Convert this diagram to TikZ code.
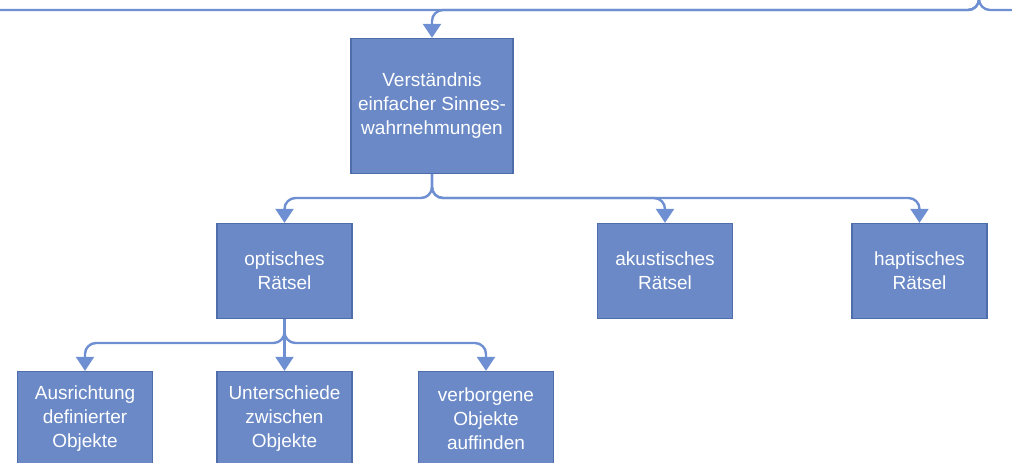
\documentclass[tikz,border=0pt]{standalone}
\usepackage{fontspec}
\setmainfont{Liberation Sans}
\usetikzlibrary{arrows.meta}
\definecolor{boxfill}{HTML}{6A89C6}
\definecolor{boxedge}{HTML}{4E6DAB}
\definecolor{linecol}{HTML}{6F8FD3}
\begin{document}
\begin{tikzpicture}[x=1pt,y=-1pt,
  box/.style={draw=boxedge, line width=1.3pt, fill=boxfill, text=white,
    align=center, inner sep=0pt, minimum width=135pt, minimum height=95pt,
    font=\fontsize{19}{24}\selectfont},
  wire/.style={draw=linecol, line width=2.4pt, rounded corners=11pt},
  link/.style={wire, -{Triangle[width=18pt,length=14pt]}}]
\useasboundingbox (0,0) rectangle (1012,463);
\clip (0,0) rectangle (1012,463);

% boxes
\node[box, minimum width=162pt, minimum height=135pt] (top) at (432,106)
  {Verständnis\\einfacher Sinnes-\\wahrnehmungen};
\node[box] (opt) at (284.5,271) {optisches\\Rätsel};
\node[box] (aku) at (665,271) {akustisches\\Rätsel};
\node[box] (hap) at (919.5,271) {haptisches\\Rätsel};
\node[box] (b1) at (85,419) {Ausrichtung\\definierter\\Objekte};
\node[box] (b2) at (284.5,419) {Unterschiede\\zwischen\\Objekte};
\node[box] (b3) at (486,419) {verborgene\\Objekte\\auffinden};

% bus along the top edge
\coordinate (up) at (979,-6);
\coordinate (west) at (-6,10);
\coordinate (east) at (1018,10);
\draw[wire] (up) |- (west);
\draw[wire] (up) |- (east);
\draw[link] (up) |- (top.north |- west) -- (top.north);

% second level
\coordinate (midbus) at (432,198);
\draw[link] (top.south) -- (midbus) -| (opt.north);
\draw[link] (top.south) -- (midbus) -| (aku.north);
\draw[link] (top.south) -- (midbus) -| (hap.north);

% third level
\coordinate (lowbus) at (284.5,343);
\draw[link] (opt.south) -- (lowbus) -| (b1.north);
\draw[link] (opt.south) -- (b2.north);
\draw[link] (opt.south) -- (lowbus) -| (b3.north);
\end{tikzpicture}
\end{document}
